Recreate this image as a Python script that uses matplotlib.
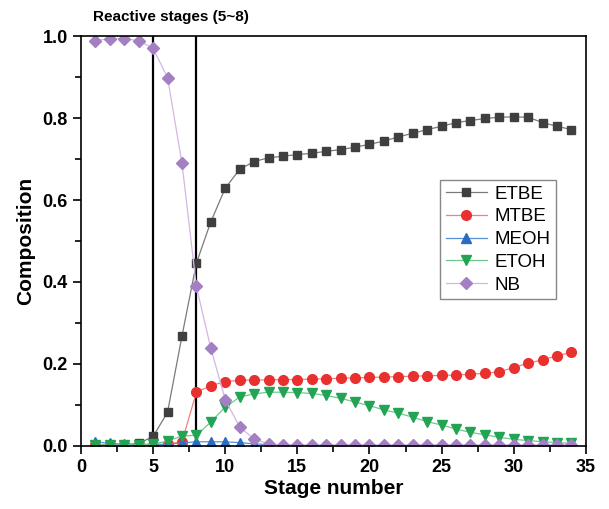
import numpy as np
import matplotlib
matplotlib.use('Agg')
import matplotlib.pyplot as plt
from matplotlib.ticker import MultipleLocator

plt.rcParams['font.family'] = ['Liberation Sans', 'DejaVu Sans']

# Data
stage = np.arange(1, 35)
etbe = [0.003, 0.002, 0.003, 0.006, 0.023, 0.082, 0.268, 0.446, 0.547, 0.629,
        0.675, 0.694, 0.703, 0.707, 0.711, 0.714, 0.719, 0.723, 0.729, 0.736,
        0.744, 0.754, 0.763, 0.772, 0.780, 0.789, 0.794, 0.799, 0.802, 0.803,
        0.802, 0.789, 0.780, 0.772]
mtbe = [0.001, 0.001, 0.001, 0.001, 0.002, 0.004, 0.010, 0.131, 0.147, 0.157,
        0.160, 0.161, 0.161, 0.162, 0.162, 0.163, 0.164, 0.165, 0.166, 0.167,
        0.168, 0.169, 0.170, 0.171, 0.172, 0.173, 0.175, 0.177, 0.181, 0.191,
        0.202, 0.210, 0.220, 0.228]
meoh = [0.010, 0.006, 0.004, 0.003, 0.004, 0.004, 0.007, 0.010, 0.010, 0.010,
        0.008, 0.005, 0.003, 0.002, 0.001, 0.001, 0.001, 0.001, 0.001, 0.001,
        0.001, 0.001, 0.001, 0.001, 0.001, 0.001, 0.001, 0.001, 0.001, 0.001,
        0.001, 0.001, 0.001, 0.001]
etoh = [0.002, 0.002, 0.002, 0.003, 0.004, 0.012, 0.024, 0.026, 0.058, 0.095,
        0.119, 0.127, 0.131, 0.131, 0.130, 0.128, 0.123, 0.116, 0.107, 0.098,
        0.088, 0.080, 0.070, 0.059, 0.051, 0.041, 0.033, 0.027, 0.021, 0.016,
        0.013, 0.010, 0.008, 0.006]
nb = [0.989, 0.994, 0.994, 0.989, 0.970, 0.899, 0.690, 0.389, 0.238, 0.113,
      0.046, 0.017, 0.005, 0.002, 0.002, 0.002, 0.002, 0.002, 0.002, 0.002,
      0.002, 0.002, 0.002, 0.002, 0.002, 0.002, 0.002, 0.002, 0.002, 0.002,
      0.002, 0.002, 0.002, 0.002]

fig = plt.figure(figsize=(6.09, 5.09), dpi=100)
ax = fig.add_axes([0.133, 0.124, 0.829, 0.805])

# Series
ax.plot(stage, etbe, color='#7a7a7a', lw=0.9, marker='s', ms=6,
        mfc='#3f3f3f', mec='#3f3f3f', label='ETBE')
ax.plot(stage, mtbe, color='#f08080', lw=0.9, marker='o', ms=7,
        mfc='#e8312f', mec='#e8312f', label='MTBE')
ax.plot(stage, meoh, color='#5a8fd6', lw=0.9, marker='^', ms=7,
        mfc='#2a6cc0', mec='#2a6cc0', label='MEOH')
ax.plot(stage, etoh, color='#6fc98f', lw=0.9, marker='v', ms=7,
        mfc='#23a455', mec='#23a455', label='ETOH')
ax.plot(stage, nb, color='#d4b6e6', lw=0.9, marker='D', ms=6,
        mfc='#a57fc4', mec='#a57fc4', label='NB')

# Reactive stage boundaries
ax.axvline(5, color='black', lw=1.6, zorder=1)
ax.axvline(8, color='black', lw=1.6, zorder=1)

# Axes
ax.set_xlim(0, 35)
ax.set_ylim(0, 1.0)
ax.xaxis.set_major_locator(MultipleLocator(5))
ax.xaxis.set_minor_locator(MultipleLocator(2.5))
ax.yaxis.set_major_locator(MultipleLocator(0.2))
ax.yaxis.set_minor_locator(MultipleLocator(0.1))
ax.tick_params(which='both', direction='out', width=1.2)
ax.tick_params(which='major', length=6, labelsize=13)
ax.tick_params(which='minor', length=4)
for lbl in ax.get_xticklabels() + ax.get_yticklabels():
    lbl.set_fontweight('bold')
for sp in ax.spines.values():
    sp.set_linewidth(1.2)

ax.set_xlabel('Stage number', fontsize=15, fontweight='bold', labelpad=2)
ax.set_ylabel('Composition', fontsize=15, fontweight='bold', labelpad=5)

fig.text(0.153, 0.966, 'Reactive stages (5~8)', fontsize=11, fontweight='bold',
         ha='left', va='center')

leg = ax.legend(loc='upper left', bbox_to_anchor=(0.711, 0.649), fontsize=13.5,
                fancybox=False, framealpha=1, edgecolor='#888888',
                borderaxespad=0, handlelength=2.2, borderpad=0.3,
                labelspacing=0.3, handletextpad=0.4)
leg.get_frame().set_linewidth(1.0)

fig.savefig('out.png', dpi=100)
